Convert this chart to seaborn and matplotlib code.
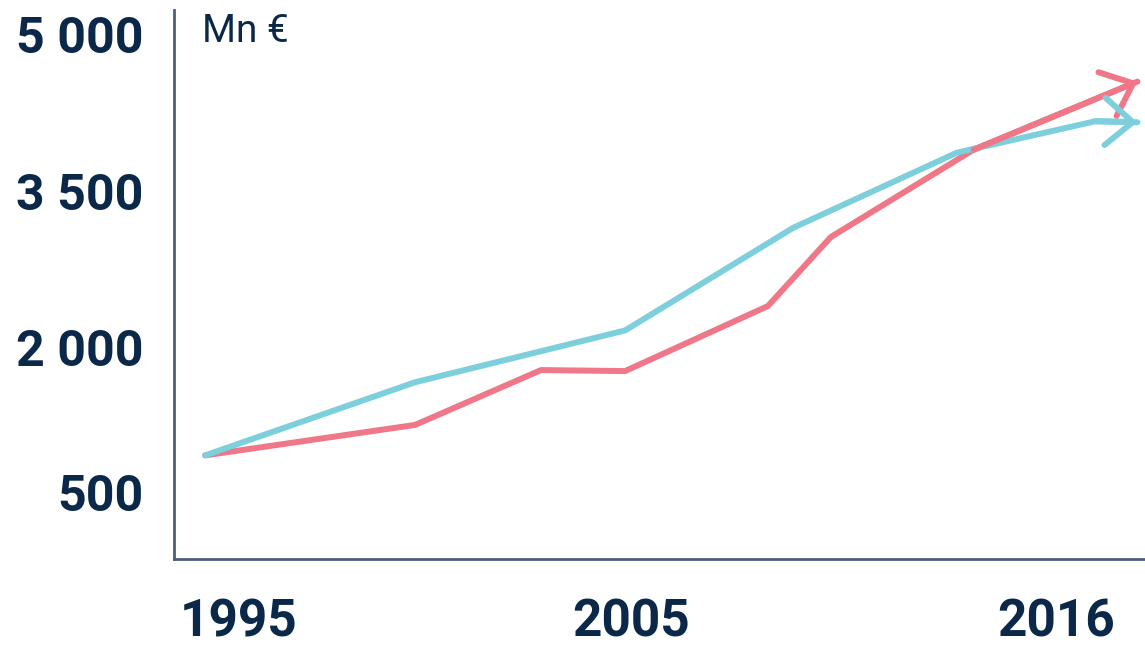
import pandas as pd
import matplotlib.pyplot as plt
import matplotlib.transforms as mtransforms
import seaborn as sns

# values (Mn EUR)
red_years = [1995, 2000, 2003, 2005, 2008.4, 2009.9, 2013.3, 2017.2]
red_values = [870, 1170, 1710, 1700, 2340, 3020, 3880, 4550]
teal_years = [1995, 2000, 2005, 2009, 2012.9, 2016.2, 2017.2]
teal_values = [870, 1590, 2100, 3110, 3850, 4160, 4150]

y_ticks = [500, 2000, 3500, 5000]
y_labels = ["500", "2 000", "3 500", "5 000"]
x_ticks = [1995, 2005, 2016]
x_labels = ["1995", "2005", "2016"]

RED = "#ef7787"
TEAL = "#7dcfdb"
NAVY = "#0b2849"
SPINE = "#4d5f78"

df = pd.concat([
    pd.DataFrame({"year": red_years, "value": red_values, "series": "red"}),
    pd.DataFrame({"year": teal_years, "value": teal_values, "series": "teal"}),
])

sns.set_style("white")
fig = plt.figure(figsize=(11.45, 6.46), dpi=100)
ax = fig.add_axes([0.152, 0.1347, 0.848, 0.85])

sns.lineplot(data=df, x="year", y="value", hue="series", sort=False,
             palette={"red": RED, "teal": TEAL}, linewidth=4.3,
             legend=False, ax=ax)

# arrow heads at the end of each line
for yrs, vals, col in [(red_years, red_values, RED), (teal_years, teal_values, TEAL)]:
    ax.annotate("", xy=(yrs[-1], vals[-1]), xytext=(yrs[-2], vals[-2]),
                arrowprops=dict(arrowstyle="->,head_length=1.0,head_width=0.85",
                                color=col, lw=4.3, mutation_scale=20,
                                shrinkA=0, shrinkB=0))

ax.set_xlim(1994.26, 2017.38)
ax.set_ylim(-150, 5256)

ax.set_yticks(y_ticks)
ax.set_yticklabels(y_labels, fontfamily="Roboto", fontweight="bold",
                   fontsize=36, color=NAVY)
ax.set_xticks(x_ticks)
ax.set_xticklabels(x_labels, fontfamily="Roboto", fontweight="bold",
                   fontsize=37, color=NAVY)
ax.tick_params(axis="y", length=0, pad=22)
ax.tick_params(axis="x", length=0, pad=28)

# nudge the labels like in the original
x_offsets = [24, 4, -22]
for lab, dx in zip(ax.get_xticklabels(), x_offsets):
    lab.set_transform(lab.get_transform() +
                      mtransforms.ScaledTranslation(dx / 72, 0, fig.dpi_scale_trans))
y_offsets = [0, -5, -2, 1]
for lab, dy in zip(ax.get_yticklabels(), y_offsets):
    lab.set_transform(lab.get_transform() +
                      mtransforms.ScaledTranslation(0, dy / 72, fig.dpi_scale_trans))

ax.set_xlabel("")
ax.set_ylabel("")
sns.despine(ax=ax)
for side in ["left", "bottom"]:
    ax.spines[side].set_color(SPINE)
    ax.spines[side].set_linewidth(2)

ax.text(0.029, 0.995, "Mn €", transform=ax.transAxes, ha="left", va="top",
        fontfamily="Roboto", fontsize=28, color=NAVY)

fig.savefig("out.png", dpi=100)
